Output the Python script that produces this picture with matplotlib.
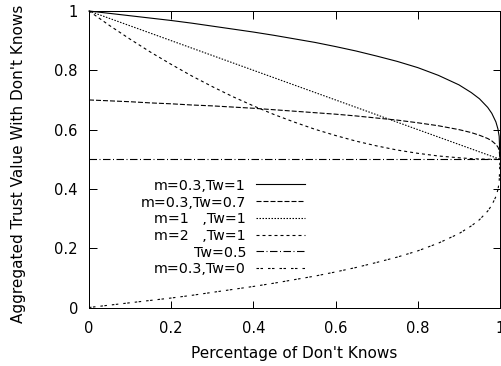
import matplotlib
matplotlib.use("Agg")
import matplotlib.pyplot as plt
from matplotlib.lines import Line2D

plt.rcParams['font.family'] = ['DejaVu Sans']
plt.rcParams['lines.scale_dashes'] = False

# ---- data ----
x_vals = [0, .05, .1, .15, .2, .25, .3, .35, .4, .45, .5, .55, .6, .65, .7,
          .75, .8, .85, .9, .93, .95, .97, .98, .99, .995, .998, 1]
m03_tw1 = [1.0, .992, .984, .976, .968, .959, .949, .939, .929, .918, .906, .894,
           .880, .865, .848, .830, .809, .783, .751, .725, .704, .675, .655,
           .626, .602, .577, .5]
m03_tw07 = [.700, .697, .694, .690, .687, .683, .680, .676, .672, .667, .662, .657,
            .652, .646, .639, .632, .623, .613, .600, .590, .581, .570, .562,
            .550, .541, .531, .5]
m1_tw1 = [1.0, .975, .95, .925, .9, .875, .85, .825, .8, .775, .75, .725, .7,
          .675, .65, .625, .6, .575, .55, .535, .525, .515, .51, .505, .5025,
          .501, .5]
m2_tw1 = [1.0, .951, .905, .861, .820, .781, .745, .711, .680, .651, .625, .601,
          .580, .561, .545, .531, .520, .511, .505, .502, .501, .500, .500,
          .500, .500, .500, .500]
tw05 = [.5] * len(x_vals)
m03_tw0 = [0.0, .008, .016, .024, .032, .041, .051, .061, .071, .082, .094, .106,
           .120, .135, .152, .170, .191, .217, .249, .275, .296, .325, .345,
           .374, .398, .423, .5]

series_labels = ["m=0.3,Tw=1", "m=0.3,Tw=0.7", "m=1   ,Tw=1", "m=2   ,Tw=1",
                 "Tw=0.5", "m=0.3,Tw=0"]
series_values = [m03_tw1, m03_tw07, m1_tw1, m2_tw1, tw05, m03_tw0]

tick_vals = [0, 0.2, 0.4, 0.6, 0.8, 1]
tick_labels = ["0", "0.2", "0.4", "0.6", "0.8", "1"]

x_title = "Percentage of Don't Knows"
y_title = "Aggregated Trust Value With Don't Knows"

# ---- styling ----
styles = [
    '-',
    (0, (3.6, 1.44)),
    (0, (1.08, 1.08)),
    (0, (2.16, 2.16)),
    (0, (5.4, 1.8, 0.72, 1.8)),
    (0, (1.8, 1.08, 1.8, 3.6)),
]
LW = 0.8

W, H = 501, 366
fig = plt.figure(figsize=(W / 100, H / 100), dpi=100)

def fx(px):
    return px / W

def fy(py):
    return 1 - py / H

ax_l, ax_r, ax_t, ax_b = 89, 500, 11, 307.5
ax = fig.add_axes([fx(ax_l), fy(ax_b), (ax_r - ax_l) / W, (ax_b - ax_t) / H])

for vals, ls in zip(series_values, styles):
    ax.plot(x_vals, vals, color='black', linestyle=ls, linewidth=LW, clip_on=False)

ax.set_xlim(0, 1)
ax.set_ylim(0, 1)
ax.set_xticks(tick_vals)
ax.set_xticklabels(tick_labels)
ax.set_yticks(tick_vals)
ax.set_yticklabels(tick_labels)
ax.tick_params(axis='both', which='major', direction='in', length=5.4, width=0.72,
               top=True, right=True, labelsize=10.6, colors='black')
ax.tick_params(axis='x', pad=10)
ax.tick_params(axis='y', pad=8)
for sp in ax.spines.values():
    sp.set_linewidth(0.72)
    sp.set_color('black')

# axis titles
fig.text(fx(294.5), fy(358), x_title, ha='center', va='baseline', fontsize=11)
fig.text(fx(19), fy(164), y_title, ha='center', va='center', rotation=90, fontsize=11)

# legend (gnuplot style: right-justified text, sample to the right)
text_right = 246
line_x0, line_x1 = 256, 305
baselines = [190, 206.7, 223.3, 240, 256.7, 273.3]
for lab, ls, base in zip(series_labels, styles, baselines):
    fig.text(fx(text_right), fy(base), lab, ha='right', va='baseline', fontsize=10.3)
    yl = base - 5.5
    fig.add_artist(Line2D([fx(line_x0), fx(line_x1)], [fy(yl), fy(yl)],
                          transform=fig.transFigure, color='black',
                          linestyle=ls, linewidth=LW))

fig.savefig("out.png", dpi=100)
